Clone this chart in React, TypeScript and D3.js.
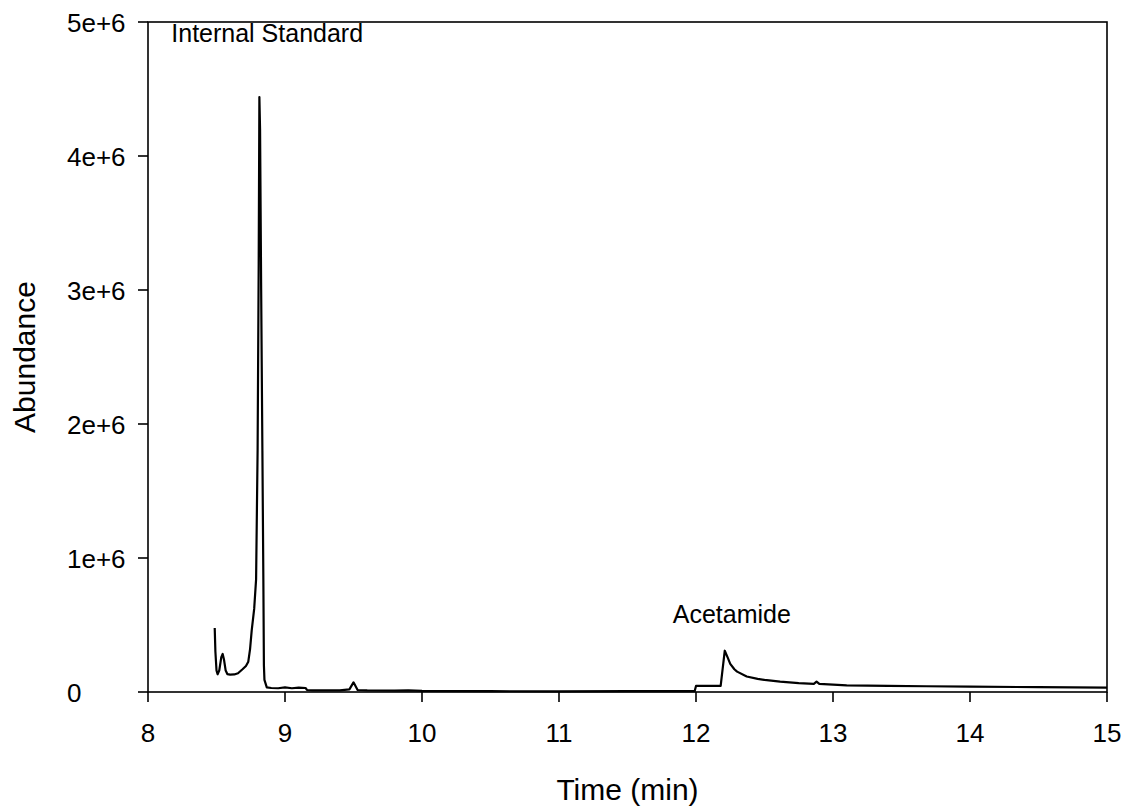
import React from "react";
import * as d3 from "d3";

const timeMin: number[] = [
  8.487, 8.492, 8.5, 8.508, 8.52, 8.535, 8.545, 8.555, 8.567, 8.579, 8.6, 8.63, 8.657, 8.69, 8.715,
  8.732, 8.745, 8.757, 8.775, 8.789, 8.8, 8.808, 8.813, 8.818, 8.826, 8.835, 8.842, 8.846, 8.85,
  8.867, 8.9, 8.95, 9.0, 9.05, 9.1, 9.15, 9.16, 9.2, 9.4, 9.47, 9.5, 9.53, 9.6, 9.8, 9.9, 10.0,
  10.5, 11.0, 11.5, 11.99, 12.0, 12.18, 12.21, 12.23, 12.25, 12.28, 12.3, 12.37, 12.45, 12.5,
  12.614, 12.75, 12.86, 12.88, 12.9, 13.1, 13.4, 13.68, 14.0, 14.5, 15.0,
];
const abundanceMillions: number[] = [
  0.478, 0.3, 0.16, 0.132, 0.16, 0.26, 0.284, 0.24, 0.16, 0.134, 0.13, 0.131, 0.14, 0.17, 0.194,
  0.226, 0.32, 0.46, 0.62, 0.84, 1.8, 3.2, 4.44, 4.2, 3.0, 1.8, 0.84, 0.2, 0.09,
  0.035, 0.03, 0.028, 0.034, 0.028, 0.032, 0.03, 0.015, 0.012, 0.012, 0.02, 0.072, 0.015, 0.012,
  0.01, 0.012, 0.008, 0.006, 0.005, 0.006, 0.006, 0.045, 0.046, 0.308, 0.26, 0.21, 0.17, 0.152,
  0.116, 0.098, 0.09, 0.077, 0.066, 0.06, 0.077, 0.06, 0.05, 0.046, 0.043, 0.04, 0.036, 0.032,
];
const xTicks: number[] = [8, 9, 10, 11, 12, 13, 14, 15];
const yTicks: number[] = [0, 1e6, 2e6, 3e6, 4e6, 5e6];
const yTickLabels: string[] = ["0", "1e+6", "2e+6", "3e+6", "4e+6", "5e+6"];
const annotations = [
  { text: "Internal Standard", t: 8.17, v: 4.85e6 },
  { text: "Acetamide", t: 11.83, v: 0.514e6 },
];

const W = 1126;
const H = 811;
const left = 148, right = 1107, top = 22, bottom = 692;
const font = "'Liberation Sans', Arial, sans-serif";

export default function App() {
  const x = d3.scaleLinear().domain([8, 15]).range([left, right]);
  const y = d3.scaleLinear().domain([0, 5e6]).range([bottom, top]);
  const pts = timeMin.map((t, i) => [t, abundanceMillions[i] * 1e6] as [number, number]);
  const line = d3
    .line<[number, number]>()
    .x((d) => x(d[0]))
    .y((d) => y(d[1]));

  return (
    <svg
      width={W}
      height={H}
      style={{ position: "absolute", left: 0, top: 0, background: "#fff" }}
      fontFamily={font}
    >
      <rect x={0} y={0} width={W} height={H} fill="#fff" />
      <path d={line(pts) || ""} fill="none" stroke="#000" strokeWidth={2.2} strokeLinejoin="round" />
      <rect
        x={left}
        y={top}
        width={right - left}
        height={bottom - top}
        fill="none"
        stroke="#000"
        strokeWidth={1.6}
      />
      {xTicks.map((t) => (
        <g key={"x" + t}>
          <line x1={x(t)} x2={x(t)} y1={bottom} y2={bottom + 10} stroke="#000" strokeWidth={1.6} />
          <text x={x(t)} y={742} textAnchor="middle" fontSize={26} fill="#000">
            {t}
          </text>
        </g>
      ))}
      {yTicks.map((v, i) => (
        <g key={"y" + v}>
          <line x1={left - 10} x2={left} y1={y(v)} y2={y(v)} stroke="#000" strokeWidth={1.6} />
          <text x={67} y={y(v) + 10} textAnchor="start" fontSize={26} fill="#000">
            {yTickLabels[i]}
          </text>
        </g>
      ))}
      <text x={(left + right) / 2} y={800} textAnchor="middle" fontSize={30} fill="#000">
        Time (min)
      </text>
      <text
        transform={`translate(35, ${(top + bottom) / 2}) rotate(-90)`}
        textAnchor="middle"
        fontSize={30}
        fill="#000"
      >
        Abundance
      </text>
      {annotations.map((a) => (
        <text key={a.text} x={x(a.t)} y={y(a.v)} fontSize={25} fill="#000">
          {a.text}
        </text>
      ))}
    </svg>
  );
}
